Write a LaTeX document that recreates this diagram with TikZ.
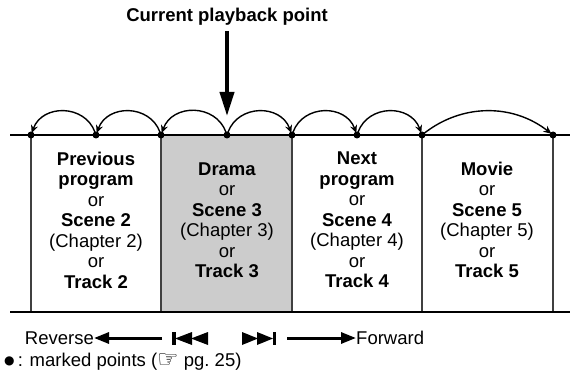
\documentclass[tikz,border=0pt]{standalone}
\usepackage{fontspec}
\setmainfont{Liberation Sans}
\newfontfamily\symfont{DejaVu Sans}
\usetikzlibrary{arrows.meta}

\begin{document}
\begin{tikzpicture}[x=1pt, y=1pt,
  txt/.style={align=center, inner sep=0pt, font=\fontsize{18.5}{20.5}\selectfont},
  rail/.style={line width=2.6pt},
  edge/.style={line width=1.3pt, black!75},
  dot/.style={circle, fill, inner sep=0pt, minimum size=7pt},
  jump/.style={-{Stealth[length=8pt,width=7pt]}, line width=1.4pt, shorten <=3pt, shorten >=2pt, looseness=1.3},
  bigarrow/.style={-{Triangle[length=24pt,width=14pt]}, line width=3.8pt},
  midarrow/.style={-{Triangle[length=15pt,width=11pt]}, line width=3pt}
]
\useasboundingbox (0,0) rectangle (570,-374);

% Points on the timeline
\foreach \n/\x in {0/31,1/96,2/161,3/227,4/292,5/357,6/422,7/553}
  \coordinate (p\n) at (\x,-135);
\foreach \n/\x in {0/31,2/161,4/292,6/422,7/553}
  \coordinate (b\n) at (\x,-312);
\coordinate (tl) at (10,-135);
\coordinate (tr) at (570,-135);
\coordinate (bl) at (10,-312);
\coordinate (br) at (570,-312);

% Current item
\fill[gray!40] (p2) rectangle (b4);

% Segment borders
\foreach \n in {0,2,4,6,7}
  \draw[edge] (p\n) -- (b\n);
\draw[rail] (tl) -- (tr);
\draw[rail] (bl) -- (br);

% Segment texts
\node[txt] at (96,-220)  (prev)  {\textbf{Previous}\\\textbf{program}\\or\\\textbf{Scene 2}\\(Chapter 2)\\or\\\textbf{Track 2}};
\node[txt] at (227,-220) (drama) {\textbf{Drama}\\or\\\textbf{Scene 3}\\(Chapter 3)\\or\\\textbf{Track 3}};
\node[txt] at (357,-220) (next)  {\textbf{Next}\\\textbf{program}\\or\\\textbf{Scene 4}\\(Chapter 4)\\or\\\textbf{Track 4}};
\node[txt] at (487,-220) (movie) {\textbf{Movie}\\or\\\textbf{Scene 5}\\(Chapter 5)\\or\\\textbf{Track 5}};

% Skips between marked points
\draw[jump] (p1) to[bend right=70] (p0);
\draw[jump] (p2) to[bend right=70] (p1);
\draw[jump] (p3) to[bend right=70] (p2);
\draw[jump] (p3) to[bend left=70] (p4);
\draw[jump] (p4) to[bend left=70] (p5);
\draw[jump] (p5) to[bend left=70] (p6);
\draw[jump, looseness=1] (p6) to[bend left=38] (p7);

\foreach \n in {0,...,7}
  \node[dot] at (p\n) {};

% Current playback point
\node[txt, font=\fontsize{18.5}{20.5}\selectfont\bfseries] at (227,-17) (cur) {Current playback point};
\draw[bigarrow, shorten <=5pt, shorten >=19pt] (cur.south) -- (p3);

% Direction row
\node[txt, anchor=east] at (94,-338) (rev) {Reverse};
\coordinate (revstart) at (162,-338);
\draw[midarrow] (revstart) -- (rev.east);
\fill (172,-332) rectangle (175.5,-345);
\fill (175,-338.5) -- (192,-332) -- (192,-345) -- cycle;
\fill (191,-338.5) -- (208,-332) -- (208,-345) -- cycle;
\fill (242,-332) -- (258,-338.5) -- (242,-345) -- cycle;
\fill (257,-332) -- (273,-338.5) -- (257,-345) -- cycle;
\fill (272.5,-332) rectangle (276,-345);
\node[txt, anchor=west] at (356,-338) (fwd) {Forward};
\coordinate (fwdstart) at (287,-338);
\draw[midarrow] (fwdstart) -- (fwd.west);

% Legend
\node[txt, anchor=west] at (4,-362) (note) {\raisebox{2pt}{\symfont\fontsize{12}{12}\selectfont ●}\,: marked points (\raisebox{-1pt}{\symfont\fontsize{24}{20}\selectfont ☞} pg.~25)};
\end{tikzpicture}
\end{document}
